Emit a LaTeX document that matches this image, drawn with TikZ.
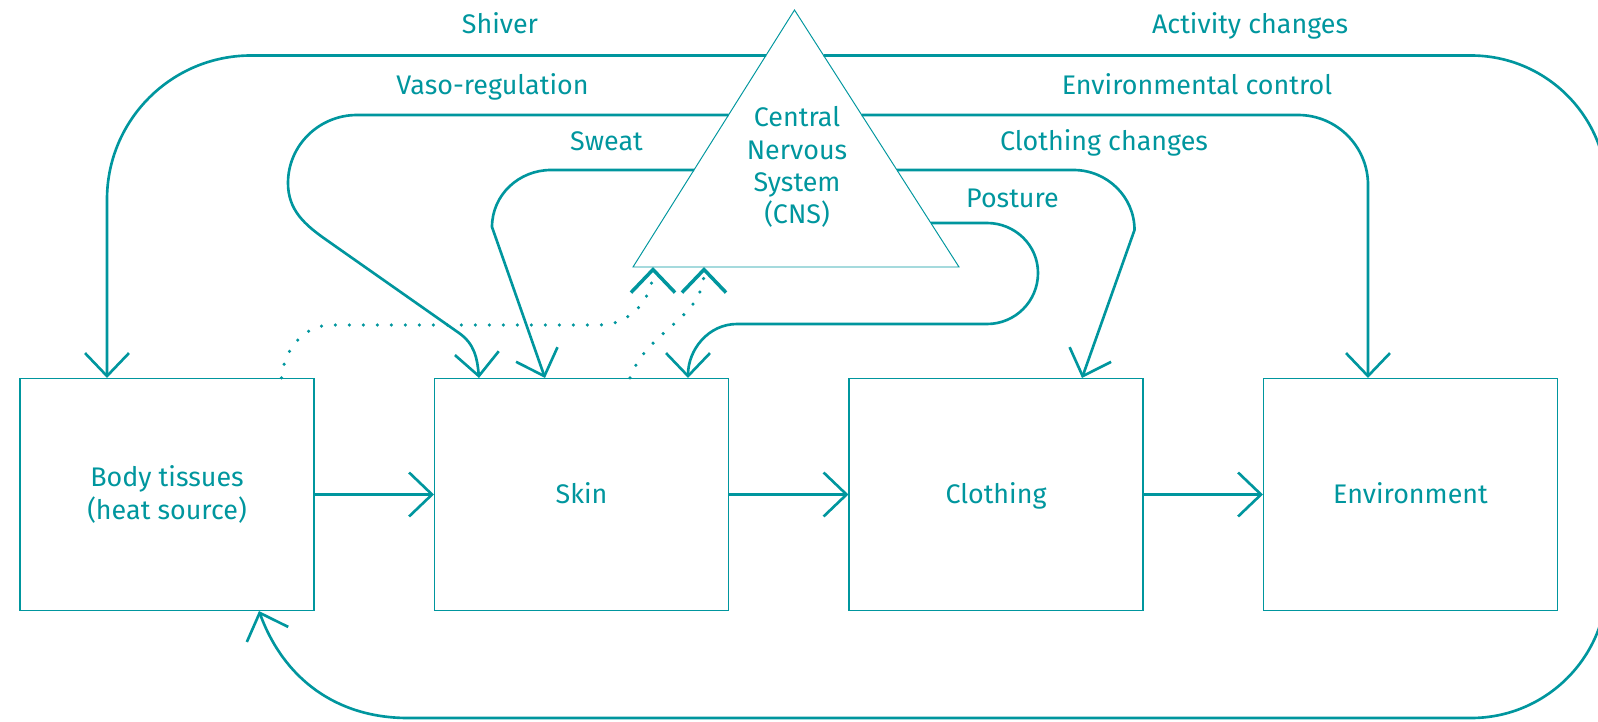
\documentclass[tikz,border=0pt]{standalone}
\usepackage{fontspec}
\setmainfont{Fira Sans}
\usetikzlibrary{calc,positioning,arrows.meta}
\definecolor{cnsteal}{RGB}{0,150,158}

\begin{document}
\begin{tikzpicture}[every node/.style={text=cnsteal,font=\fontsize{15.3}{18.3}\selectfont,align=center},
    box/.style={draw=cnsteal,line width=0.6pt,minimum width=5.88cm,minimum height=4.64cm},
    word/.style={text height=13.6pt,text depth=3pt},
    flow/.style={cnsteal,line width=1.5pt,-{Straight Barb[length=4.6mm,width=8.8mm]}},
    sense/.style={flow,line width=2pt,line cap=round,dash pattern=on 0pt off 2.8mm}]
   \useasboundingbox (0,0) rectangle (31.96,14.42);
   \node[box]      (body)  at (3.34,4.53)  {Body tissues\\(heat source)};
   \node[box,word] (skin)  at (11.63,4.53) {Skin};
   \node[box,word] (cloth) at (19.92,4.53) {Clothing};
   \node[box,word] (env)   at (28.21,4.53) {Environment};
   \draw[flow] (body) -- (skin);
   \draw[flow] (skin) -- (cloth);
   \draw[flow] (cloth) -- (env);

   \coordinate (apex)  at (15.89,14.22);
   \coordinate (baseL) at (12.66,9.08);
   \coordinate (baseR) at (19.18,9.08);
   \draw[cnsteal,line width=0.55pt] (apex) -- (baseL) -- (baseR) -- cycle;
   \node (cns) at (15.94,11.08) {Central\\Nervous\\System\\(CNS)};

   \coordinate (shiverOut)  at (15.32,13.31);
   \coordinate (vasoOut)    at (14.57,12.12);
   \coordinate (sweatOut)   at (13.88,11.02);
   \coordinate (actOut)     at (16.47,13.31);
   \coordinate (envOut)     at (17.23,12.12);
   \coordinate (clothOut)   at (17.94,11.02);
   \coordinate (postureOut) at (18.62,9.96);
   \coordinate (cnsIn1)     at (13.06,9.08);
   \coordinate (cnsIn2)     at (14.08,9.08);

   \node[anchor=base] (shiverLbl)  at (10.00,13.75) {Shiver};
   \node[anchor=base] (vasoLbl)    at (9.85,12.52)  {Vaso-regulation};
   \node[anchor=base] (sweatLbl)   at (12.13,11.41) {Sweat};
   \node[anchor=base] (actLbl)     at (25.00,13.75) {Activity changes};
   \node[anchor=base] (envLbl)     at (23.94,12.52) {Environmental control};
   \node[anchor=base] (clothLbl)   at (22.08,11.41) {Clothing changes};
   \node[anchor=base] (postureLbl) at (20.25,10.27) {Posture};

   \draw[flow,rounded corners=2.88cm] (shiverOut) -| ([xshift=-1.2cm]body.north);
   \draw[flow] (vasoOut) -- (7.14,12.12) to[out=180,in=90] (5.76,10.76)
               to[out=-90,in=145] (6.53,9.62) -- (9.18,7.76)
               to[out=-35,in=95] ([xshift=-2.05cm]skin.north);
   \draw[flow] (sweatOut) -- (11.02,11.02) to[out=180,in=90] (9.84,9.88)
               -- ([xshift=-0.73cm]skin.north);
   \draw[flow] (postureOut) -- (19.74,9.96) to[out=0,in=90] (20.76,8.96)
               to[out=-90,in=0] (19.74,7.94) -- (14.74,7.94)
               to[out=180,in=90] ([xshift=2.13cm]skin.north);
   \draw[flow] (clothOut) -- (21.47,11.02) to[out=0,in=90] (22.69,9.82)
               -- ([xshift=1.72cm]cloth.north);
   \draw[flow,rounded corners=1.4cm] (envOut) -| ([xshift=-0.85cm]env.north);
   \draw[flow] (actOut) -- (29.42,13.31) arc[start angle=90,end angle=0,radius=2.72cm]
               -- (32.14,2.78) arc[start angle=0,end angle=-90,radius=2.72cm]
               -- (8.16,0.06) to[out=180,in=-70] ([xshift=1.84cm]body.south);
   \draw[sense] ([xshift=2.29cm]body.north) to[out=85,in=180] (6.64,7.92) -- (12.0,7.92)
               to[out=0,in=-90] (cnsIn1);
   \draw[sense] ([xshift=0.97cm]skin.north) to[out=70,in=-90] (cnsIn2);
\end{tikzpicture}
\end{document}
